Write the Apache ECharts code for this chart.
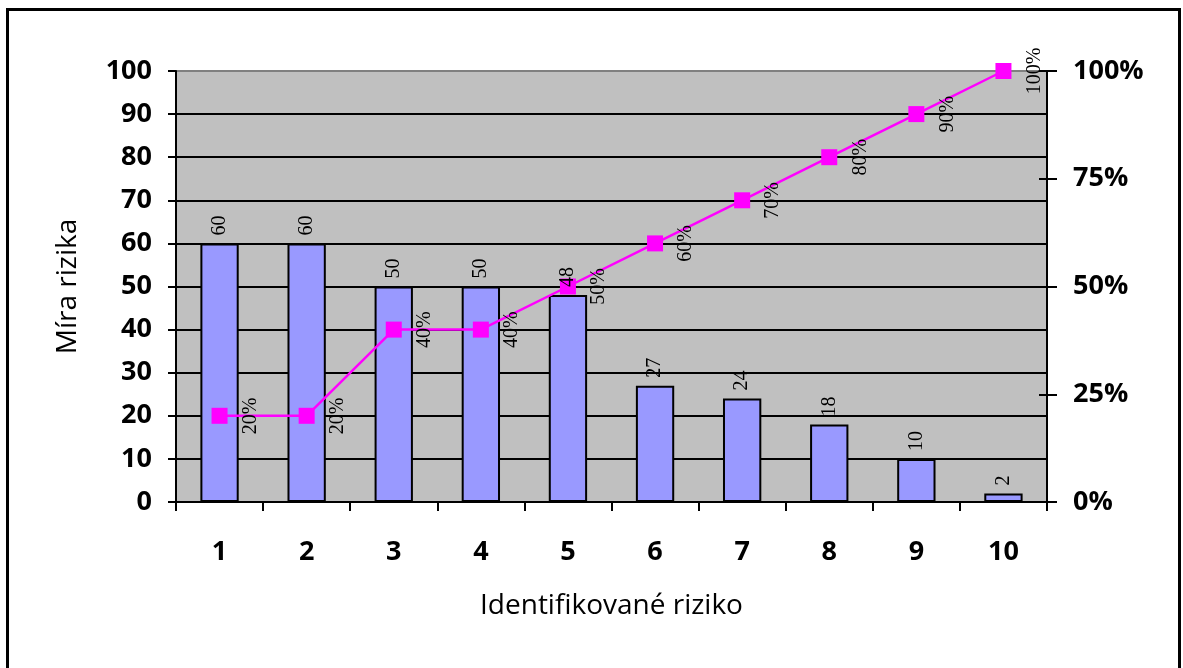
<!DOCTYPE html>
<html>
<head>
<meta charset="utf-8">
<script src="https://cdn.jsdelivr.net/npm/echarts@6/dist/echarts.min.js"></script>
<style>
html,body{margin:0;padding:0;background:#fff;}
#c{width:1183px;height:668px;}
</style>
</head>
<body>
<div id="c"></div>
<script>
const categories = ['1','2','3','4','5','6','7','8','9','10'];
const riskValues = [60,60,50,50,48,27,24,18,10,2];
const cumulativePercent = [20,20,40,40,50,60,70,80,90,100];
const yAxisName = 'Míra rizika';
const xAxisName = 'Identifikované riziko';

const chart = echarts.init(document.getElementById('c'));
const gridColors = [];
for (let i = 0; i < 10; i++) gridColors.push('#000');
gridColors.push('#808080');

const axisFont = {fontFamily:'Open Sans', fontWeight:'bold', fontSize:27, color:'#000'};
const nameFont = {fontFamily:'Open Sans', fontSize:28, color:'#000'};
const valueFont = {fontFamily:'Liberation Serif', fontSize:20, color:'#000'};

chart.setOption({
  animation:false,
  backgroundColor:'#fff',
  graphic:[{type:'rect', shape:{x:7.5,y:9.5,width:1172,height:700}, style:{fill:'none',stroke:'#000',lineWidth:3}, z:100}],
  grid:{left:176,right:136,top:71,bottom:166,show:true,backgroundColor:'#C0C0C0',borderWidth:0},
  xAxis:{
    type:'category', data:categories,
    name:xAxisName, nameLocation:'middle', nameGap:90,
    nameTextStyle:nameFont,
    axisLine:{lineStyle:{color:'#000',width:2}},
    axisTick:{show:true,length:9,lineStyle:{color:'#000',width:2}},
    axisLabel:{margin:37, ...axisFont}
  },
  yAxis:[
    {type:'value',min:0,max:100,interval:10,position:'left',
     name:yAxisName, nameLocation:'middle', nameGap:94,
     nameTextStyle:nameFont,
     axisLine:{show:true,lineStyle:{color:'#000',width:2}},
     axisTick:{show:true,length:8,lineStyle:{color:'#000',width:2}},
     axisLabel:{margin:24, ...axisFont},
     splitLine:{show:true,lineStyle:{color:gridColors,width:2}}},
    {type:'value',min:0,max:100,interval:25,position:'right',
     axisLine:{show:true,lineStyle:{color:'#000',width:2}},
     axisTick:{show:true,length:10,lineStyle:{color:'#000',width:2}},
     axisLabel:{margin:26, formatter:'{value}%', ...axisFont},
     splitLine:{show:false}},
    {type:'value',min:0,max:100,interval:25,position:'right',
     axisLine:{show:false},
     axisTick:{show:true,inside:true,length:8,lineStyle:{color:'#000',width:2}},
     axisLabel:{show:false},
     splitLine:{show:false}}
  ],
  series:[
    {type:'bar', data:riskValues, yAxisIndex:0, barWidth:'44%',
     itemStyle:{color:'#9999FF',borderColor:'#000',borderWidth:2},
     z:2},
    {type:'line', data:cumulativePercent, yAxisIndex:1,
     symbol:'rect', symbolSize:16,
     lineStyle:{color:'#FF00FF',width:2.5},
     itemStyle:{color:'#FF00FF'},
     label:{show:true, position:'inside', offset:[0,31], rotate:90, align:'center', verticalAlign:'middle',
            formatter:'{c}%', ...valueFont},
     z:5},
    {type:'bar', data:riskValues, yAxisIndex:0, barWidth:'44%', barGap:'-100%',
     itemStyle:{color:'rgba(0,0,0,0)',borderWidth:0},
     label:{show:true, position:'top', distance:8, rotate:90, align:'left', verticalAlign:'middle', ...valueFont},
     z:10, silent:true}
  ]
});
</script>
</body>
</html>
